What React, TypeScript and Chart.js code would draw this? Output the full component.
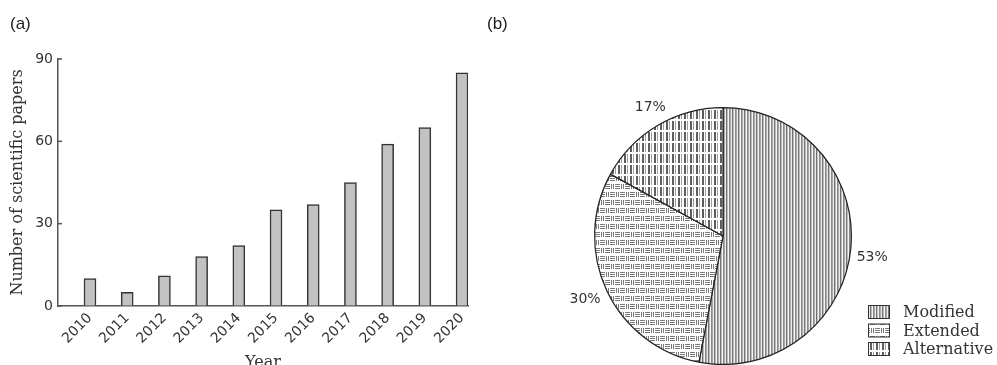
import React, { useEffect, useRef } from "react";
import { Chart, registerables } from "chart.js";

Chart.register(...registerables);

// ---- data ----
const years = [2010, 2011, 2012, 2013, 2014, 2015, 2016, 2017, 2018, 2019, 2020];
const papers = [10, 5, 11, 18, 22, 35, 37, 45, 59, 65, 85];
const yTicks = [0, 30, 60, 90];
const shareLabels = ["Modified", "Extended", "Alternative"];
const shares = [53, 30, 17];

const SANS = "'DejaVu Sans', sans-serif";
const SERIF = "'DejaVu Serif', serif";

function makePattern(kind: string): CanvasPattern | string {
  const c = document.createElement("canvas");
  const ctx = c.getContext("2d")!;
  if (kind === "modified") {
    const cols = ["#737373", "#bdbdbd", "#f4f4f4", "#8a8a8a", "#a9a9a9", "#ececec"];
    c.width = cols.length; c.height = 1;
    cols.forEach((col, i) => { ctx.fillStyle = col; ctx.fillRect(i, 0, 1, 1); });
  } else if (kind === "extended") {
    c.width = 10; c.height = 16;
    ctx.fillStyle = "#fff"; ctx.fillRect(0, 0, 10, 16);
    ctx.fillStyle = "#7a7a7a";
    for (const r of [0, 2, 4]) ctx.fillRect(0, r, 5, 1);
    for (const k of [6, 8]) ctx.fillRect(k, 0, 1, 5);
    for (const k of [1, 3]) ctx.fillRect(k, 8, 1, 5);
    for (const r of [8, 10, 12]) ctx.fillRect(5, r, 5, 1);
  } else {
    c.width = 6; c.height = 11;
    ctx.fillStyle = "#fff"; ctx.fillRect(0, 0, 6, 11);
    ctx.fillStyle = "#5e5e5e"; ctx.fillRect(0, 0, 2, 9);
    ctx.fillStyle = "#9e9e9e"; ctx.fillRect(3, 0, 1, 9);
  }
  const p = ctx.createPattern(c, "repeat");
  return p || "#bbb";
}

function BarChart() {
  const ref = useRef<HTMLCanvasElement>(null);
  useEffect(() => {
    const innerTicks = {
      id: "innerTicks",
      afterDraw(chart: any) {
        const ctx = chart.ctx;
        const ys = chart.scales.y;
        const x0 = chart.chartArea.left;
        ctx.save();
        ctx.strokeStyle = "#555";
        ctx.lineWidth = 1.5;
        yTicks.forEach((v) => {
          const py = ys.getPixelForValue(v);
          ctx.beginPath();
          ctx.moveTo(x0, py);
          ctx.lineTo(x0 + 4, py);
          ctx.stroke();
        });
        ctx.restore();
      },
    };
    const chart = new Chart(ref.current!, {
      type: "bar",
      data: {
        datasets: [
          {
            data: years.map((y, i) => ({ x: y, y: papers[i] })),
            backgroundColor: "#c2c2c2",
            borderColor: "#333333",
            borderWidth: 1.5,
            barThickness: 12,
          },
        ],
      },
      options: {
        animation: false,
        responsive: false,
        events: [],
        layout: { padding: { top: 59, right: 12, left: 0, bottom: 0 } },
        plugins: { legend: { display: false }, tooltip: { enabled: false } },
        scales: {
          x: {
            type: "linear",
            offset: false,
            min: 2009.14,
            max: 2020.16,
            afterBuildTicks: (s: any) => { s.ticks = years.map((v) => ({ value: v })); },
            afterFit: (s: any) => { s.height = 66; },
            grid: { display: true, offset: false, drawOnChartArea: false, drawTicks: false, color: "transparent" },
            border: { display: true, color: "#555", width: 1.5 },
            ticks: {
              minRotation: 45, maxRotation: 45, padding: 4, autoSkip: false,
              color: "#333", font: { family: SANS, size: 14 },
              callback: (v: any) => String(v),
            },
            title: { display: true, text: "Year", color: "#333", font: { family: SERIF, size: 16 }, padding: 0 },
          },
          y: {
            min: 0, max: 90,
            afterBuildTicks: (s: any) => { s.ticks = yTicks.map((v) => ({ value: v })); },
            afterFit: (s: any) => { s.width = 58; },
            grid: { drawOnChartArea: false, drawTicks: false, color: "#555" },
            border: { display: true, color: "#555", width: 1.5 },
            ticks: { padding: 5, color: "#333", font: { family: SANS, size: 14 } },
            title: {
              display: true, text: "Number of scientific papers", color: "#333",
              font: { family: SERIF, size: 16 }, padding: { top: 8, bottom: 0 },
            },
          },
        },
      },
      plugins: [innerTicks],
    } as any);
    return () => chart.destroy();
  }, []);
  return <canvas ref={ref} width={480} height={372} style={{ position: "absolute", left: 0, top: 0 }} />;
}

function PieChart() {
  const ref = useRef<HTMLCanvasElement>(null);
  useEffect(() => {
    const patterns = [makePattern("modified"), makePattern("extended"), makePattern("alternative")];
    const labelPlugin = {
      id: "pieLabels",
      afterDraw(chart: any) {
        const ctx = chart.ctx;
        const meta = chart.getDatasetMeta(0);
        ctx.save();
        ctx.fillStyle = "#333";
        ctx.font = `14px ${SANS}`;
        ctx.textAlign = "center";
        ctx.textBaseline = "middle";
        meta.data.forEach((arc: any, i: number) => {
          const p = arc.getProps(["x", "y", "startAngle", "endAngle", "outerRadius"], true);
          const mid = (p.startAngle + p.endAngle) / 2 + 0.03;
          const r = p.outerRadius + 22;
          ctx.fillText(`${shares[i]}%`, p.x + Math.cos(mid) * r, p.y + Math.sin(mid) * r + 3);
        });
        // legend
        const lx = 388, ly0 = 312, dy = 18.5;
        shareLabels.forEach((lab, i) => {
          const y = ly0 + i * dy;
          ctx.fillStyle = patterns[i] as any;
          ctx.fillRect(lx, y - 6.5, 22, 13);
          ctx.strokeStyle = "#333";
          ctx.lineWidth = 1;
          ctx.strokeRect(lx + 0.5, y - 6.5, 21, 13);
          ctx.fillStyle = "#333";
          ctx.font = `16px ${SERIF}`;
          ctx.textAlign = "left";
          ctx.fillText(lab, lx + 35, y + 1);
        });
        ctx.restore();
      },
    };
    const chart = new Chart(ref.current!, {
      type: "pie",
      data: {
        labels: shareLabels,
        datasets: [
          {
            data: shares,
            backgroundColor: patterns,
            borderColor: "#222",
            borderWidth: 1.2,
          },
        ],
      },
      options: {
        animation: false,
        responsive: false,
        events: [],
        layout: { padding: { left: 114, right: 145, top: 107, bottom: 0 } },
        plugins: { legend: { display: false }, tooltip: { enabled: false } },
      },
      plugins: [labelPlugin],
    } as any);
    return () => chart.destroy();
  }, []);
  return <canvas ref={ref} width={517} height={365} style={{ position: "absolute", left: 480, top: 0 }} />;
}

export default function App() {
  useEffect(() => {
    document.body.style.margin = "0";
    document.body.style.overflow = "hidden";
  }, []);
  const lab: React.CSSProperties = {
    position: "absolute", top: 14, fontFamily: "'Liberation Sans', Arial, sans-serif",
    fontSize: 17, color: "#222", lineHeight: "20px",
  };
  return (
    <div style={{ position: "relative", width: 997, height: 365, overflow: "hidden", background: "#fff" }}>
      <BarChart />
      <PieChart />
      <div style={{ ...lab, left: 10 }}>(a)</div>
      <div style={{ ...lab, left: 487 }}>(b)</div>
    </div>
  );
}
